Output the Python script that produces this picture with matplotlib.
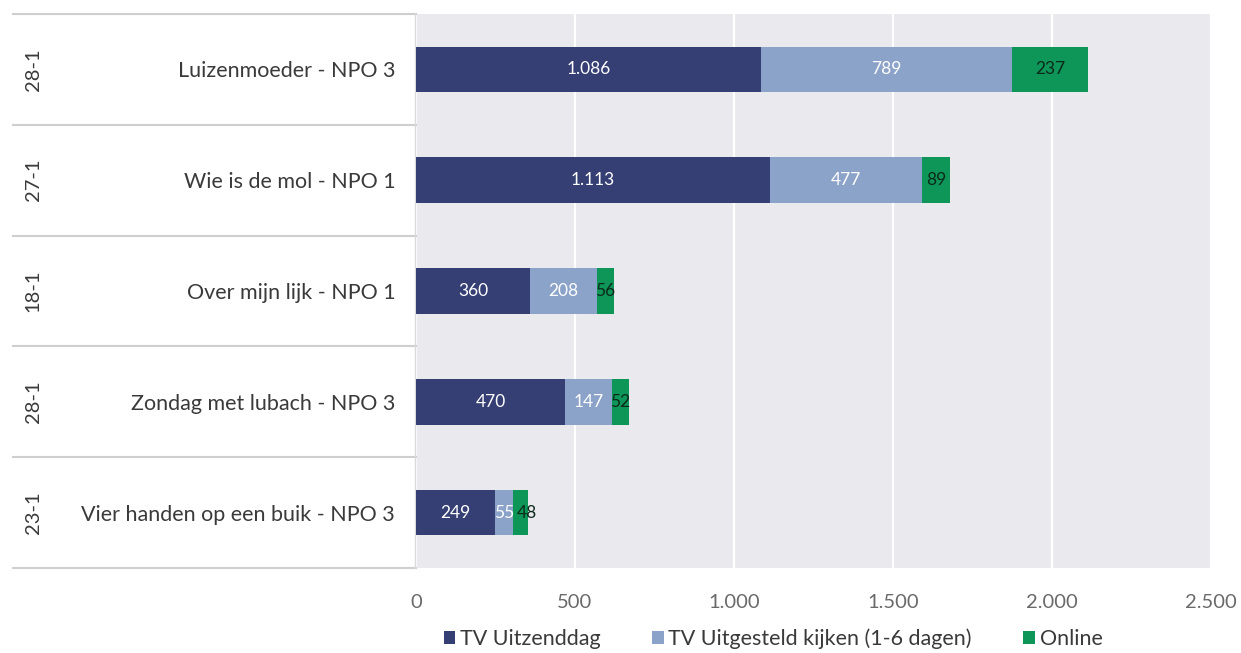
import matplotlib
matplotlib.use("Agg")
import matplotlib.pyplot as plt
from matplotlib.transforms import blended_transform_factory
from matplotlib.patches import Patch

plt.rcParams['font.family'] = ['Lato', 'DejaVu Sans']

programs = ["Luizenmoeder - NPO 3", "Wie is de mol - NPO 1", "Over mijn lijk - NPO 1",
            "Zondag met lubach - NPO 3", "Vier handen op een buik - NPO 3"]
dates = ["28-1", "27-1", "18-1", "28-1", "23-1"]
tv_uitzenddag = [1086, 1113, 360, 470, 249]
tv_uitgesteld = [789, 477, 208, 147, 55]
online = [237, 89, 56, 52, 48]
series_names = ["TV Uitzenddag", "TV Uitgesteld kijken (1-6 dagen)", "Online"]
xticks = [0, 500, 1000, 1500, 2000, 2500]

colors = ["#353F73", "#8BA2C9", "#0E9659"]
label_colors = ["white", "white", "#0B2A1A"]

def fmt(v):
    return f"{v:,}".replace(",", ".")

W, H = 1241, 653
fig = plt.figure(figsize=(W / 100, H / 100), dpi=100)
fig.patch.set_facecolor("white")
ax = fig.add_axes([416 / W, 1 - 568 / H, (1211 - 416) / W, (568 - 14) / H])
ax.set_facecolor("#E9E9EE")

ypos = list(range(len(programs)))
left = [0] * len(programs)
row_texts = [[] for _ in programs]
for vals, c, lc in zip([tv_uitzenddag, tv_uitgesteld, online], colors, label_colors):
    bars = ax.barh(ypos, vals, left=left, height=0.41, color=c, zorder=3)
    for i, (b, v) in enumerate(zip(bars, vals)):
        t = ax.text(b.get_x() + b.get_width() / 2, b.get_y() + b.get_height() / 2, fmt(v),
                    ha="center", va="center", color=lc, fontsize=12.5, zorder=4)
        row_texts[i].append(t)
    left = [l + v for l, v in zip(left, vals)]

ax.set_xlim(0, 2500)
ax.set_ylim(len(programs) - 0.5, -0.5)
ax.set_xticks(xticks)
ax.set_xticklabels([fmt(t) for t in xticks])
ax.set_yticks(ypos)
ax.set_yticklabels(programs)
ax.tick_params(axis="y", length=0, pad=15, labelsize=15.5, labelcolor="#3A3A3A")
ax.tick_params(axis="x", length=0, pad=19, labelsize=14.5, labelcolor="#6A6A6A")
ax.grid(axis="x", color="white", linewidth=1.6, zorder=1)
ax.set_axisbelow(True)
for s in ax.spines.values():
    s.set_visible(False)

# nudge data labels that would collide inside a narrow stack
fig.canvas.draw()
renderer = fig.canvas.get_renderer()
inv = ax.transData.inverted()
for texts in row_texts:
    for t1, t2 in zip(texts[:-1], texts[1:]):
        bb1 = t1.get_window_extent(renderer)
        bb2 = t2.get_window_extent(renderer)
        gap = bb1.x1 + 3 - bb2.x0
        if gap > 0:
            x0 = inv.transform((0, 0))[0]
            x1 = inv.transform((gap, 0))[0]
            px, py = t2.get_position()
            t2.set_position((px + (x1 - x0), py))

# left table structure
tr = blended_transform_factory(fig.transFigure, ax.transData)
for b in [i - 0.5 for i in range(len(programs) + 1)]:
    ax.plot([13 / W, 416 / W], [b, b], transform=tr, color="#CFCFCF", linewidth=1.5,
            clip_on=False, zorder=2)
ax.plot([415 / W, 415 / W], [-0.5, len(programs) - 0.5], transform=tr, color="#DADADA",
        linewidth=1.0, clip_on=False, zorder=2)
for y, d in zip(ypos, dates):
    ax.text(33 / W, y, d, transform=tr, rotation=90, ha="center", va="center",
            fontsize=14.5, color="#3A3A3A")

handles = [Patch(facecolor=c, edgecolor="none") for c in colors]
fig.legend(handles, series_names, loc="center", bbox_to_anchor=(773 / W, 1 - 639 / H),
           ncol=3, frameon=False, fontsize=15.5, handlelength=0.55, handleheight=0.55,
           handletextpad=0.2, columnspacing=2.4, labelcolor="#3A3A3A",
           borderpad=0, borderaxespad=0)

fig.savefig("out.png", dpi=100, facecolor="white")
